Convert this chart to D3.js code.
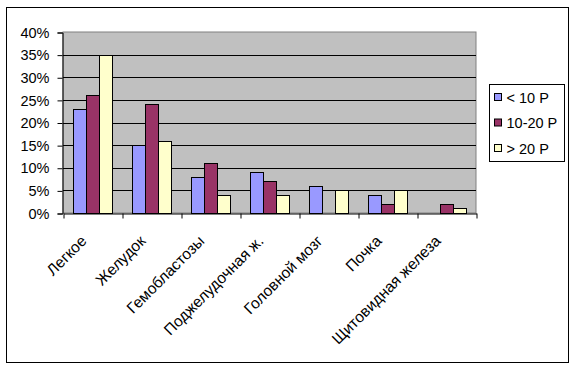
<!DOCTYPE html>
<html>
<head>
<meta charset="utf-8">
<script src="https://cdn.jsdelivr.net/npm/d3@7"></script>
<style>
  body { margin: 0; background: #fff; }
  text { font-family: Arial, "Liberation Sans", sans-serif; }
</style>
</head>
<body>
<div id="chart"></div>
<script>
// categories and series
var categories = ["Легкое", "Желудок", "Гемобластозы", "Поджелудочная ж.", "Головной мозг", "Почка", "Щитовидная железа"];
var seriesNames = ["< 10 Р", "10-20 Р", "> 20 Р"];
var below10 = [0.23, 0.15, 0.08, 0.09, 0.06, 0.04, 0];
var from10to20 = [0.26, 0.24, 0.11, 0.07, 0, 0.02, 0.02];
var above20 = [0.35, 0.16, 0.04, 0.04, 0.05, 0.05, 0.01];
var yTicks = [0, 0.05, 0.10, 0.15, 0.20, 0.25, 0.30, 0.35, 0.40];
var colors = ["#9999FF", "#993366", "#FFFFCC"];

var allSeries = [below10, from10to20, above20];

var W = 576, H = 369;
var plot = {left: 63, right: 476, top: 32, bottom: 213};

var svg = d3.select("#chart").append("svg")
  .attr("width", W)
  .attr("height", H);

// outer chart frame
svg.append("rect")
  .attr("x", 6.5).attr("y", 7.5)
  .attr("width", 562).attr("height", 355)
  .attr("fill", "#fff").attr("stroke", "#000");

// plot background
svg.append("rect")
  .attr("x", plot.left).attr("y", plot.top)
  .attr("width", plot.right - plot.left).attr("height", plot.bottom - plot.top)
  .attr("fill", "#C0C0C0").attr("stroke", "#808080");

var y = d3.scaleLinear().domain([0, 0.4]).range([plot.bottom, plot.top]);
var x0 = d3.scaleBand().domain(categories).range([plot.left, plot.right]).padding(0);
var gap = x0.step() * 0.165;
var x1 = d3.scaleBand().domain(seriesNames).range([gap, x0.step() - gap]);
var xEdge = d3.scaleLinear().domain([0, categories.length]).range([plot.left, plot.right]);

// gridlines
svg.append("g")
  .selectAll("line")
  .data(yTicks.filter(function(d){ return d > 0 && d < 0.4; }))
  .enter().append("line")
    .attr("x1", plot.left).attr("x2", plot.right)
    .attr("y1", function(d){ return Math.round(y(d)) + 0.5; })
    .attr("y2", function(d){ return Math.round(y(d)) + 0.5; })
    .attr("stroke", "#000");

// bars
var groups = svg.append("g")
  .selectAll("g")
  .data(categories)
  .enter().append("g")
    .attr("transform", function(d){ return "translate(" + x0(d) + ",0)"; });

groups.selectAll("rect")
  .data(function(d, i){
    return seriesNames.map(function(s, j){ return {name: s, value: allSeries[j][i], idx: j}; });
  })
  .enter().append("rect")
    .filter(function(d){ return d.value > 0; })
    .attr("x", function(d){ return Math.round(x1(d.name)) + 0.5; })
    .attr("y", function(d){ return Math.round(y(d.value)) + 0.5; })
    .attr("width", function(d){ return Math.round(x1.bandwidth()); })
    .attr("height", function(d){ return Math.round(y(0)) - Math.round(y(d.value)); })
    .attr("fill", function(d){ return colors[d.idx]; })
    .attr("stroke", "#000");

// y axis
var yAxis = svg.append("g")
  .attr("transform", "translate(" + (plot.left - 0.5) + ",0.5)")
  .call(d3.axisLeft(y).tickValues(yTicks).tickFormat(d3.format(".0%")).tickSize(5).tickPadding(8));
yAxis.select(".domain").attr("stroke", "#000");
yAxis.selectAll("text").style("font-size", "14.5px").attr("fill", "#000");

// x axis (ticks between categories)
var xAxis = svg.append("g")
  .attr("transform", "translate(0.5," + (plot.bottom + 0.5) + ")")
  .call(d3.axisBottom(xEdge).tickValues(d3.range(categories.length + 1)).tickSize(5).tickSizeOuter(0).tickFormat(""));
xAxis.select(".domain").attr("stroke", "#000");

// rotated category labels
svg.append("g")
  .selectAll("text")
  .data(categories)
  .enter().append("text")
    .attr("transform", function(d){
      return "translate(" + (x0(d) + x0.bandwidth() / 2 - 5) + "," + (plot.bottom + 29) + ") rotate(-45)";
    })
    .attr("text-anchor", "end")
    .style("font-size", "15.5px")
    .text(function(d){ return d; });

// legend
var legend = svg.append("g").attr("transform", "translate(489.5,84.5)");
legend.append("rect")
  .attr("width", 75).attr("height", 77)
  .attr("fill", "#fff").attr("stroke", "#000");
var items = legend.selectAll(".item")
  .data(seriesNames)
  .enter().append("g")
    .attr("transform", function(d, i){ return "translate(0," + (13 + i * 25.5) + ")"; });
items.append("rect")
  .attr("x", 5).attr("y", -4)
  .attr("width", 7).attr("height", 7)
  .attr("fill", function(d, i){ return colors[i]; })
  .attr("stroke", "#000");
items.append("text")
  .attr("x", 17).attr("y", 5)
  .style("font-size", "14.5px")
  .text(function(d){ return d; });
</script>
</body>
</html>
